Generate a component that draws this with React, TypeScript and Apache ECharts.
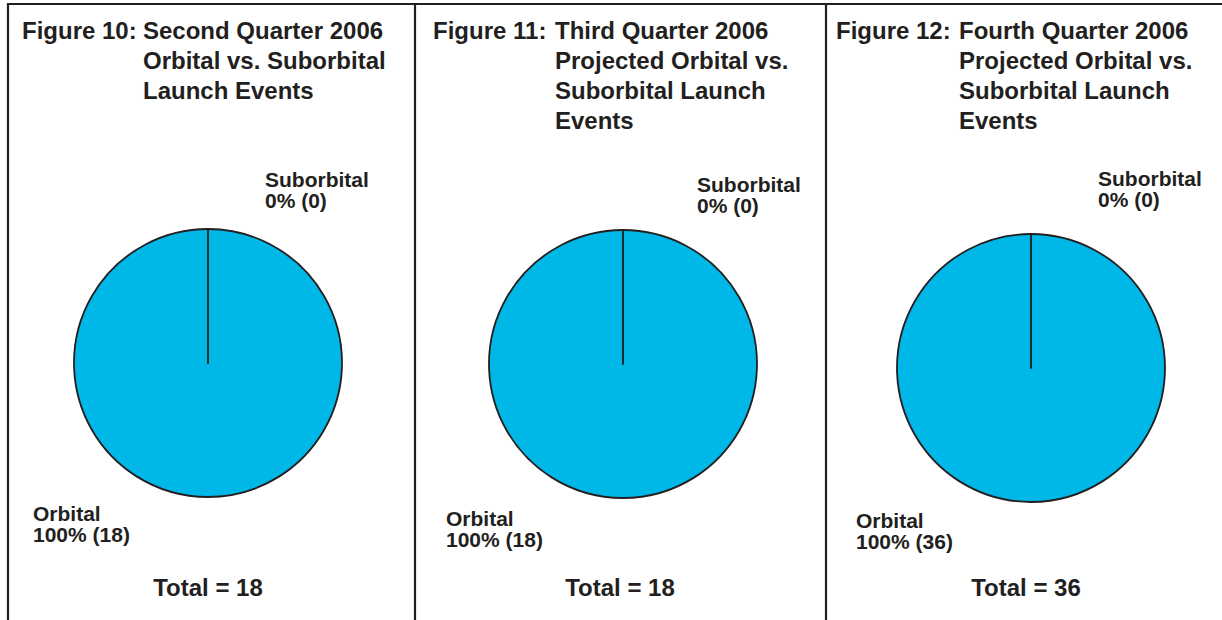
import React, { useEffect, useRef } from "react";
import * as echarts from "echarts";

const figureNumbers = ["Figure 10:", "Figure 11:", "Figure 12:"];
const figureTitles = [
  "Second Quarter 2006\nOrbital vs. Suborbital\nLaunch Events",
  "Third Quarter 2006\nProjected Orbital vs.\nSuborbital Launch\nEvents",
  "Fourth Quarter 2006\nProjected Orbital vs.\nSuborbital Launch\nEvents",
];
const categories = ["Orbital", "Suborbital"];
const orbitalValues = [18, 18, 36];
const suborbitalValues = [0, 0, 0];

// layout (positions only)
const panelX = [8, 415, 826];
const figNumX = [22, 433, 836];
const titleX = [143, 555, 959];
const pieCenters = [
  [208, 363],
  [623, 364],
  [1031, 368],
];
const subLabelPos = [
  [265, 169],
  [697, 174],
  [1098, 168],
];
const orbLabelPos = [
  [33, 503],
  [446, 508],
  [856, 510],
];
const totalX = [208, 620, 1026];

const TEXT = "#231f20";
const BLUE = "#00b8e8";
const FONT = "'Liberation Sans', Arial, Helvetica, sans-serif";

export default function App() {
  const ref = useRef<HTMLDivElement>(null);
  useEffect(() => {
    if (!ref.current) return;
    const chart = echarts.init(ref.current, undefined, { renderer: "svg" });

    const series: any[] = [];
    const graphics: any[] = [];

    // borders
    graphics.push({
      type: "line",
      shape: { x1: 7, y1: 4, x2: 1222, y2: 4 },
      style: { stroke: TEXT, lineWidth: 2.2 },
    });
    panelX.forEach((x) => {
      graphics.push({
        type: "line",
        shape: { x1: x, y1: 3, x2: x, y2: 620 },
        style: { stroke: TEXT, lineWidth: 2.2 },
      });
    });

    for (let i = 0; i < 3; i++) {
      const vals = [orbitalValues[i], suborbitalValues[i]];
      const total = vals.reduce((a, b) => a + b, 0);
      series.push({
        type: "pie",
        center: pieCenters[i],
        radius: 134,
        startAngle: 90,
        clockwise: true,
        silent: true,
        label: { show: false },
        labelLine: { show: false },
        itemStyle: { color: BLUE, borderColor: TEXT, borderWidth: 1.8 },
        data: categories.map((c, k) => ({ name: c, value: vals[k] })),
      });

      graphics.push({
        type: "text",
        x: figNumX[i],
        y: 15,
        style: {
          text: figureNumbers[i],
          font: `bold 24px ${FONT}`,
          fill: TEXT,
          lineHeight: 30,
          verticalAlign: "top",
        },
      });
      graphics.push({
        type: "text",
        x: titleX[i],
        y: 15,
        style: {
          text: figureTitles[i],
          font: `bold 24px ${FONT}`,
          fill: TEXT,
          lineHeight: 30,
          verticalAlign: "top",
        },
      });

      const pct = (v: number) => Math.round((v / total) * 100);
      graphics.push({
        type: "text",
        x: subLabelPos[i][0],
        y: subLabelPos[i][1],
        style: {
          text: `${categories[1]}\n${pct(vals[1])}% (${vals[1]})`,
          font: `bold 21px ${FONT}`,
          fill: TEXT,
          lineHeight: 21,
          verticalAlign: "top",
        },
      });
      graphics.push({
        type: "text",
        x: orbLabelPos[i][0],
        y: orbLabelPos[i][1],
        style: {
          text: `${categories[0]}\n${pct(vals[0])}% (${vals[0]})`,
          font: `bold 21px ${FONT}`,
          fill: TEXT,
          lineHeight: 21,
          verticalAlign: "top",
        },
      });
      graphics.push({
        type: "text",
        x: totalX[i],
        y: 587,
        style: {
          text: `Total = ${total}`,
          font: `bold 24px ${FONT}`,
          fill: TEXT,
          align: "center",
          verticalAlign: "middle",
        },
      });
    }

    chart.setOption({
      animation: false,
      backgroundColor: "#ffffff",
      series,
      graphic: graphics,
    });
    return () => chart.dispose();
  }, []);

  return (
    <div
      ref={ref}
      style={{ position: "fixed", left: 0, top: 0, width: 1222, height: 620 }}
    />
  );
}
